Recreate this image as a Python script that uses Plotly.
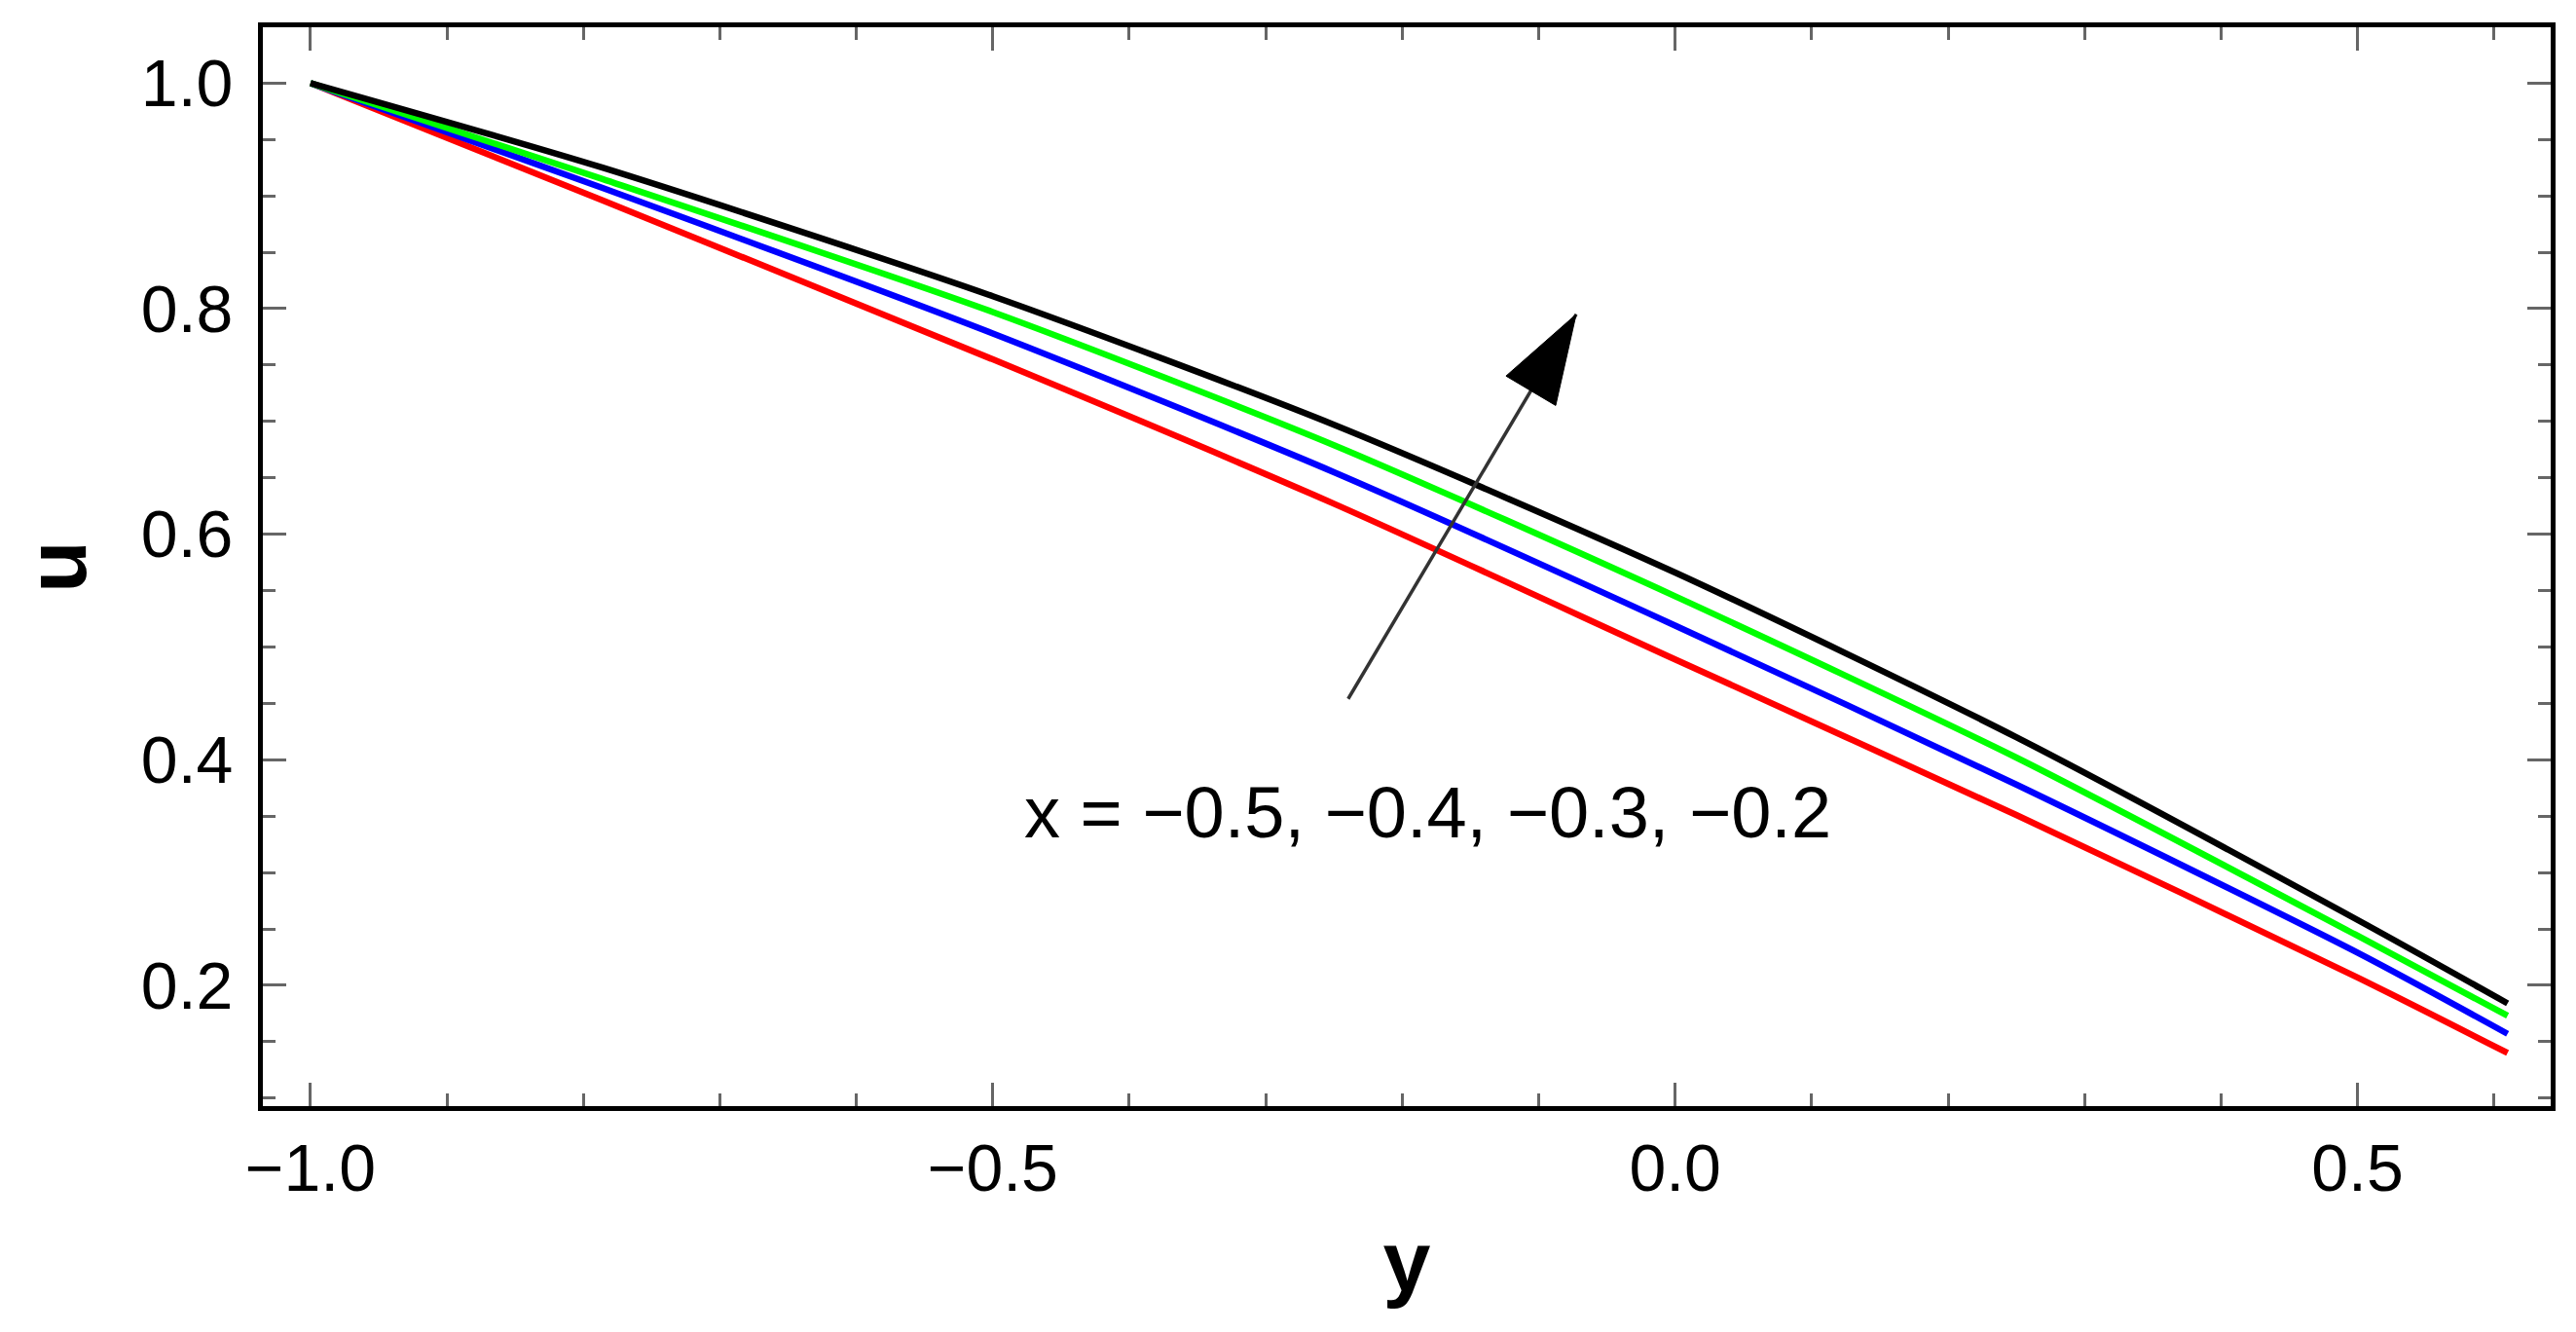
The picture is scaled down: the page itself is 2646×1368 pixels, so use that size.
import plotly.graph_objects as go

# velocity profiles u(y) for several x values
y_vals = [-1.0, -0.786, -0.5, -0.25, 0.0, 0.25, 0.5, 0.61]
u_x_m05 = [1.0, 0.896, 0.755, 0.627, 0.489, 0.351, 0.207, 0.140]   # red
u_x_m04 = [1.0, 0.907, 0.778, 0.655, 0.519, 0.378, 0.229, 0.157]   # blue
u_x_m03 = [1.0, 0.915, 0.797, 0.679, 0.545, 0.402, 0.244, 0.173]   # green
u_x_m02 = [1.0, 0.925, 0.811, 0.697, 0.566, 0.420, 0.258, 0.184]   # black

series_names = ["x = -0.5", "x = -0.4", "x = -0.3", "x = -0.2"]
series_colors = ["#ff0000", "#0000ff", "#00ff00", "#000000"]

x_ticks = [-1.0, -0.5, 0.0, 0.5]
u_ticks = [0.2, 0.4, 0.6, 0.8, 1.0]

# arrow showing the direction of increasing x
arrow_y = [-0.2396, -0.0725]
arrow_u = [0.454, 0.795]
label_text = "x = \u22120.5, \u22120.4, \u22120.3, \u22120.2"

FONT = "Liberation Sans, Arial, sans-serif"

fig = go.Figure()

for name, col, u in zip(series_names, series_colors,
                        [u_x_m05, u_x_m04, u_x_m03, u_x_m02]):
    fig.add_trace(go.Scatter(x=y_vals, y=u, mode="lines", name=name,
                             line=dict(color=col, width=6.5, shape="spline", smoothing=0.7)))

# arrow: shaft plus a narrow filled head at the tip
fig.add_trace(go.Scatter(
    x=arrow_y, y=arrow_u, mode="lines",
    line=dict(color="#333333", width=3.5),
    hoverinfo="skip"))
fig.add_trace(go.Scatter(
    x=arrow_y, y=arrow_u, mode="markers",
    marker=dict(symbol="arrow", size=[0, 96], color="#000000", opacity=1,
                angleref="previous", line=dict(width=1, color="#000000")),
    hoverinfo="skip"))

fig.add_annotation(x=-0.1815, y=0.353, xref="x", yref="y", text=label_text,
                   showarrow=False, font=dict(family=FONT, size=74, color="black"))

axis_common = dict(
    showline=True, linecolor="black", linewidth=5, mirror="allticks",
    ticks="inside", tickcolor="#666666", tickwidth=3, ticklen=24,
    showgrid=False, zeroline=False,
    tickfont=dict(family=FONT, size=68, color="black"),
)

fig.update_xaxes(**axis_common, range=[-1.0349, 0.6416], tickvals=x_ticks,
                 tickformat=".1f", ticklabelstandoff=0,
                 minor=dict(dtick=0.1, tick0=0, ticks="inside", ticklen=13,
                            tickwidth=3, tickcolor="#666666"),
                 title=dict(text="<b>y</b>", font=dict(family=FONT, size=88, color="black"),
                            standoff=30))
fig.update_yaxes(**axis_common, range=[0.0929, 1.0495], tickvals=u_ticks,
                 tickformat=".1f", ticklabelstandoff=12,
                 minor=dict(dtick=0.05, tick0=0, ticks="inside", ticklen=13,
                            tickwidth=3, tickcolor="#666666"),
                 title=dict(text="<b>u</b>", font=dict(family=FONT, size=88, color="black"),
                            standoff=50))

fig.update_layout(
    width=2646, height=1368,
    margin=dict(l=262, r=34, t=20, b=240),
    paper_bgcolor="white", plot_bgcolor="white",
    showlegend=False,
)

fig.write_html("out.html")
